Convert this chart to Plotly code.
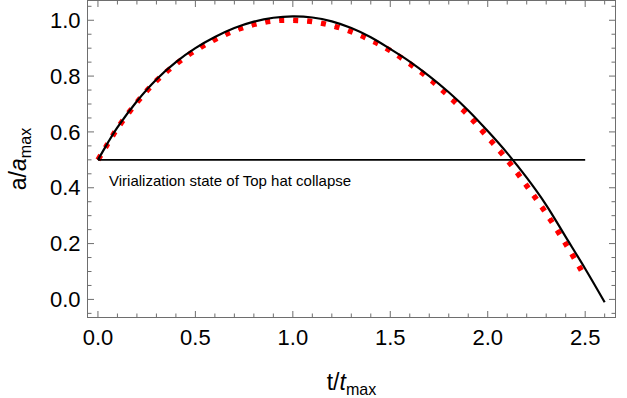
import plotly.graph_objects as go

# Data
black_t = [0.0, 0.05, 0.1, 0.2, 0.3, 0.4, 0.5, 0.6, 0.7, 0.8, 0.9, 1.0, 1.1, 1.2, 1.3, 1.4,
           1.5, 1.6, 1.7, 1.8, 1.9, 2.0, 2.1, 2.2, 2.3, 2.4, 2.5, 2.6]
black_a = [0.5, 0.56, 0.616, 0.71, 0.788, 0.850, 0.900, 0.940, 0.972, 0.995, 1.009, 1.014,
           1.010, 0.996, 0.972, 0.939, 0.897, 0.852, 0.800, 0.742, 0.677, 0.603, 0.524,
           0.436, 0.338, 0.224, 0.11, -0.01]

red_t = [0.0, 0.05, 0.1, 0.2, 0.3, 0.4, 0.5, 0.6, 0.7, 0.8, 0.9, 1.0, 1.1, 1.2, 1.3, 1.4,
         1.5, 1.6, 1.7, 1.8, 1.9, 2.0, 2.1, 2.2, 2.3, 2.4, 2.5]
red_a = [0.5, 0.557, 0.613, 0.706, 0.783, 0.843, 0.892, 0.931, 0.963, 0.985, 0.998, 1.0,
         0.995, 0.981, 0.959, 0.929, 0.891, 0.844, 0.791, 0.728, 0.660, 0.581, 0.500,
         0.407, 0.308, 0.199, 0.08]

virial_t = [0.0, 2.5]
virial_a = [0.5, 0.5]

x_ticks = [0.0, 0.5, 1.0, 1.5, 2.0, 2.5]
y_ticks = [0.0, 0.2, 0.4, 0.6, 0.8, 1.0]
x_minor = [0.1, 0.2, 0.3, 0.4, 0.6, 0.7, 0.8, 0.9, 1.1, 1.2, 1.3, 1.4, 1.6, 1.7, 1.8,
           1.9, 2.1, 2.2, 2.3, 2.4, 2.6]
y_minor = [-0.05, 0.05, 0.1, 0.15, 0.25, 0.3, 0.35, 0.45, 0.5, 0.55, 0.65, 0.7, 0.75,
           0.85, 0.9, 0.95, 1.05]
annotation_text = "Virialization state of Top hat collapse"

FONT = "Liberation Sans, Arial, sans-serif"
FRAME = "#6e6e6e"
MAJOR_LEN, MINOR_LEN = 6, 3.5

fig = go.Figure()
fig.add_trace(go.Scatter(x=red_t, y=red_a, mode="lines",
                         line=dict(color="red", width=1.3, dash="4px,10px"),
                         line_shape="spline", hoverinfo="skip"))
fig.add_trace(go.Scatter(x=red_t, y=red_a, mode="lines",
                         line=dict(color="red", width=5.5, dash="5px,9px"),
                         line_shape="spline"))
fig.add_trace(go.Scatter(x=black_t, y=black_a, mode="lines",
                         line=dict(color="black", width=2.2), line_shape="spline"))
fig.add_trace(go.Scatter(x=virial_t, y=virial_a, mode="lines",
                         line=dict(color="black", width=1.6)))

fig.add_annotation(x=0.045, y=0.427, text=annotation_text, showarrow=False,
                   xanchor="left", yanchor="middle",
                   font=dict(family=FONT, size=15, color="black"))

# Frame ticks (inside, on all four sides) drawn as pixel-sized shapes on the axes
tick_line = dict(color=FRAME, width=1)
for vals, ln in ((x_ticks, MAJOR_LEN), (x_minor, MINOR_LEN)):
    for v in vals:
        for anchor, sign in ((0, 1), (1, -1)):
            fig.add_shape(type="line", xref="x", yref="paper", x0=v, x1=v,
                          ysizemode="pixel", yanchor=anchor, y0=0, y1=sign * ln,
                          line=tick_line, layer="above")
for vals, ln in ((y_ticks, MAJOR_LEN), (y_minor, MINOR_LEN)):
    for v in vals:
        for anchor, sign in ((0, 1), (1, -1)):
            fig.add_shape(type="line", xref="paper", yref="y", y0=v, y1=v,
                          xsizemode="pixel", xanchor=anchor, x0=0, x1=sign * ln,
                          line=tick_line, layer="above")

fig.update_layout(
    template="none",
    width=627, height=398,
    margin=dict(l=88, r=12, t=1, b=81),
    paper_bgcolor="white", plot_bgcolor="white",
    showlegend=False,
)

fig.update_xaxes(range=[-0.051, 2.653], tickmode="array", tickvals=x_ticks,
                 ticktext=[f"{v:.1f}" for v in x_ticks],
                 showgrid=False, zeroline=False, showline=True, linecolor=FRAME,
                 linewidth=1.2, mirror=True, ticks="", ticklabelstandoff=0,
                 tickfont=dict(family=FONT, size=22, color="black"),
                 title=dict(text="t/<i>t</i><sub>max</sub>", standoff=25,
                            font=dict(family=FONT, size=23, color="black")))
fig.update_yaxes(range=[-0.063, 1.069], tickmode="array", tickvals=y_ticks,
                 ticktext=[f"{v:.1f}" for v in y_ticks],
                 showgrid=False, zeroline=False, showline=True, linecolor=FRAME,
                 linewidth=1.2, mirror=True, ticks="", ticklabelstandoff=2,
                 tickfont=dict(family=FONT, size=22, color="black"),
                 title=dict(text="a/<i>a</i><sub>max</sub>", standoff=16,
                            font=dict(family=FONT, size=23, color="black")))

fig.write_html("out.html", config={"displayModeBar": False},
               post_script="document.body.style.margin='0';")
